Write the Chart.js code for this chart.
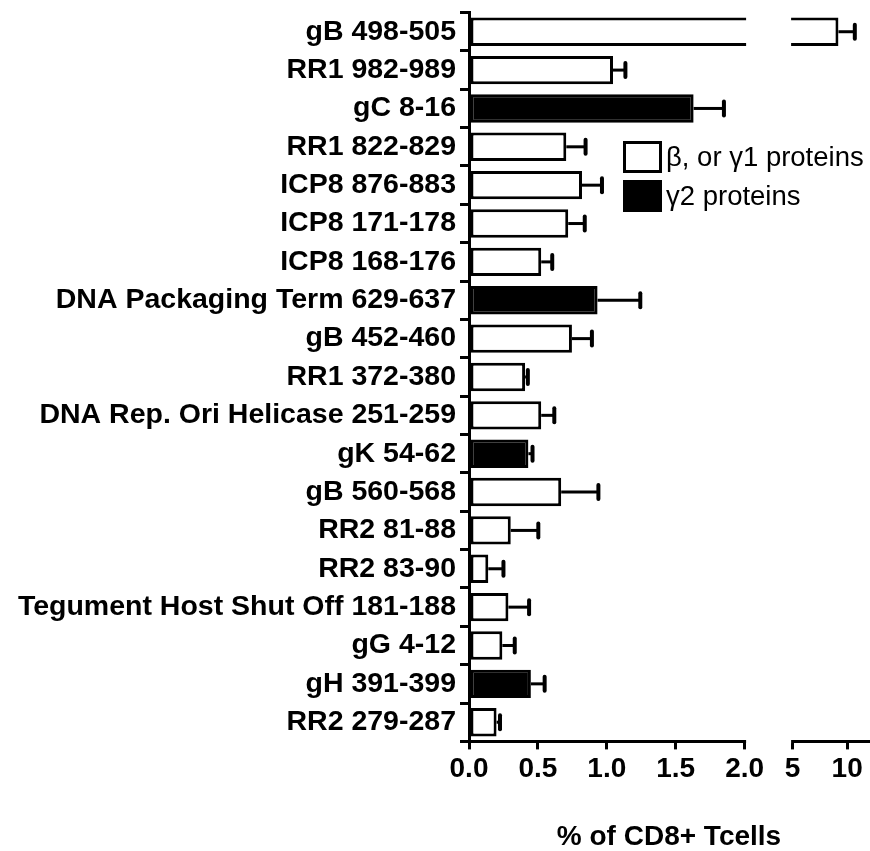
<!DOCTYPE html>
<html>
<head>
<meta charset="utf-8">
<script src="https://cdn.jsdelivr.net/npm/chart.js@4.4.1/dist/chart.umd.min.js"></script>
<style>
  html, body { margin: 0; padding: 0; background: #fff; }
  #wrap { width: 870px; height: 851px; }
</style>
</head>
<body>
<div id="wrap"><canvas id="chart"></canvas></div>
<script>
// Epitopes, top to bottom
const epitopes = [
    'gB 498-505', 'RR1 982-989', 'gC 8-16', 'RR1 822-829', 'ICP8 876-883',
    'ICP8 171-178', 'ICP8 168-176', 'DNA Packaging Term 629-637', 'gB 452-460',
    'RR1 372-380', 'DNA Rep. Ori Helicase 251-259', 'gK 54-62', 'gB 560-568',
    'RR2 81-88', 'RR2 83-90', 'Tegument Host Shut Off 181-188', 'gG 4-12',
    'gH 391-399', 'RR2 279-287'
];
// % of CD8+ T cells (mean) and error bar length
const percentCD8 = [9.2, 1.045, 1.63, 0.706, 0.82, 0.72, 0.524, 0.933, 0.747, 0.407,
    0.524, 0.431, 0.669, 0.303, 0.14, 0.286, 0.242, 0.449, 0.20];
const sem = [1.5, 0.09, 0.22, 0.14, 0.145, 0.12, 0.08, 0.31, 0.145, 0.02,
    0.095, 0.03, 0.27, 0.2, 0.11, 0.15, 0.09, 0.10, 0.025];
// kinetic class: 'b' = beta or gamma1, 'g2' = gamma2
const kinetics = ['b', 'b', 'g2', 'b', 'b', 'b', 'b', 'g2', 'b', 'b',
    'b', 'g2', 'b', 'b', 'b', 'b', 'b', 'g2', 'b'];

const tickValues = [0, 0.5, 1, 1.5, 2, 5, 10];
const tickLabels = ['0.0', '0.5', '1.0', '1.5', '2.0', '5', '10'];
const legendLabels = ['\u03b2, or \u03b31 proteins', '\u03b32 proteins'];

const FONT = '"Liberation Sans", Arial, Helvetica, sans-serif';

// broken x axis: 0-2 on the left part, 5-12 on the right part
const LOW_MAX = 2, HIGH_MIN = 5, HIGH_MAX = 12;
const LOW_FRAC = 0.689, HIGH_FRAC = 0.809;

class BrokenScale extends Chart.LinearScale {
    toDecimal(v) {
        if (v <= LOW_MAX) return v / LOW_MAX * LOW_FRAC;
        if (v >= HIGH_MIN) return HIGH_FRAC + (v - HIGH_MIN) / (HIGH_MAX - HIGH_MIN) * (1 - HIGH_FRAC);
        return LOW_FRAC + (v - LOW_MAX) / (HIGH_MIN - LOW_MAX) * (HIGH_FRAC - LOW_FRAC);
    }
    getPixelForValue(v) {
        if (v === null || v === undefined) return NaN;
        return this.getPixelForDecimal(this.toDecimal(v));
    }
    getValueForPixel(p) {
        const d = this.getDecimalForPixel(p);
        if (d <= LOW_FRAC) return d / LOW_FRAC * LOW_MAX;
        if (d >= HIGH_FRAC) return HIGH_MIN + (d - HIGH_FRAC) / (1 - HIGH_FRAC) * (HIGH_MAX - HIGH_MIN);
        return LOW_MAX + (d - LOW_FRAC) / (HIGH_FRAC - LOW_FRAC) * (HIGH_MIN - LOW_MAX);
    }
    buildTicks() {
        return tickValues.map(v => ({ value: v }));
    }
}
BrokenScale.id = 'broken';
Chart.register(BrokenScale);

// error bars
const errorBars = {
    id: 'errorBars',
    afterDatasetsDraw(chart) {
        const ctx = chart.ctx;
        const xs = chart.scales.x;
        const meta = chart.getDatasetMeta(0);
        ctx.save();
        ctx.strokeStyle = '#000';
        meta.data.forEach((bar, i) => {
            const x0 = bar.x;
            const x1 = xs.getPixelForValue(percentCD8[i] + sem[i]);
            ctx.lineWidth = 3;
            ctx.lineCap = 'butt';
            ctx.beginPath();
            ctx.moveTo(x0, bar.y);
            ctx.lineTo(x1, bar.y);
            ctx.stroke();
            ctx.lineWidth = 4;
            ctx.lineCap = 'round';
            ctx.beginPath();
            ctx.moveTo(x1, bar.y - 7);
            ctx.lineTo(x1, bar.y + 7);
            ctx.stroke();
        });
        ctx.restore();
    }
};

// white gap for the axis break + legend
const breakAndLegend = {
    id: 'breakAndLegend',
    afterDraw(chart) {
        const ctx = chart.ctx;
        const xs = chart.scales.x;
        const a = xs.getPixelForValue(LOW_MAX) + 1.5;
        const b = xs.getPixelForValue(HIGH_MIN) - 1.5;
        ctx.save();
        ctx.fillStyle = '#fff';
        ctx.fillRect(a, 0, b - a, xs.top + 2);

        // legend
        const lx = 623, ly = 141, bw = 39, bh = 32, step = 39;
        ctx.lineWidth = 3;
        ctx.strokeStyle = '#000';
        ctx.fillStyle = '#fff';
        ctx.fillRect(lx, ly, bw, bh);
        ctx.strokeRect(lx + 1.5, ly + 1.5, bw - 3, bh - 3);
        ctx.fillStyle = '#000';
        ctx.fillRect(lx, ly + step, bw, bh);
        ctx.font = '27.5px ' + FONT;
        ctx.textBaseline = 'middle';
        ctx.textAlign = 'left';
        ctx.fillText(legendLabels[0], lx + bw + 4, ly + bh / 2 + 1);
        ctx.fillText(legendLabels[1], lx + bw + 4, ly + step + bh / 2 + 1);
        ctx.restore();
    }
};

new Chart(document.getElementById('chart'), {
    type: 'bar',
    data: {
        labels: epitopes,
        datasets: [{
            data: percentCD8,
            backgroundColor: kinetics.map(k => k === 'g2' ? '#000' : '#fff'),
            borderColor: '#000',
            borderWidth: 3,
            borderSkipped: false,
            categoryPercentage: 1,
            barPercentage: 0.74
        }]
    },
    options: {
        indexAxis: 'y',
        responsive: true,
        maintainAspectRatio: false,
        animation: false,
        layout: { padding: { top: 11, right: 1, bottom: 0, left: 0 } },
        plugins: {
            legend: { display: false },
            tooltip: { enabled: false }
        },
        scales: {
            x: {
                type: 'broken',
                min: 0,
                max: HIGH_MAX,
                grid: { drawOnChartArea: false, drawTicks: true, tickLength: 8, color: '#000', lineWidth: 3 },
                border: { display: true, color: '#000', width: 3 },
                ticks: {
                    autoSkip: false,
                    maxRotation: 0,
                    padding: 3,
                    color: '#000',
                    font: { family: FONT, size: 28, weight: 'bold' },
                    callback: (v) => tickLabels[tickValues.indexOf(v)]
                },
                title: {
                    display: true,
                    text: '% of CD8+ Tcells',
                    color: '#000',
                    font: { family: FONT, size: 28, weight: 'bold', lineHeight: 1 },
                    padding: { top: 34, bottom: 0 }
                }
            },
            y: {
                grid: { drawOnChartArea: false, drawTicks: true, tickLength: 9, color: '#000', lineWidth: 3 },
                border: { display: true, color: '#000', width: 3 },
                ticks: {
                    autoSkip: false,
                    padding: 4,
                    color: '#000',
                    font: { family: FONT, size: 28.5, weight: 'bold', lineHeight: 0.6 }
                },
                afterFit(scale) { scale.width = 469; }
            }
        }
    },
    plugins: [errorBars, breakAndLegend]
});
</script>
</body>
</html>
